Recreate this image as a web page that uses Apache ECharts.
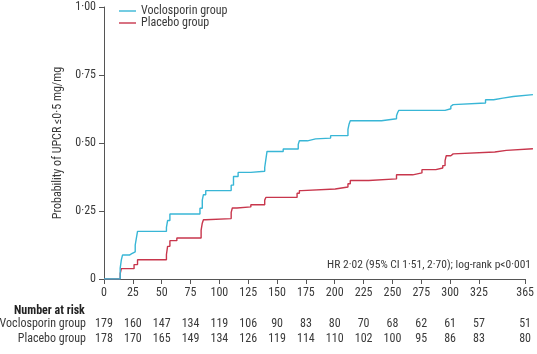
<!DOCTYPE html>
<html>
<head>
<meta charset="utf-8">
<script src="https://cdn.jsdelivr.net/npm/echarts@6/dist/echarts.min.js"></script>
<style>html,body{margin:0;padding:0;background:#fff}#c{width:537px;height:354px}</style>
</head>
<body>
<div id="c"></div>
<script>
const seriesNames = ['Voclosporin group', 'Placebo group'];
const voclosporin = [[0,0],[14,0.04],[15,0.07],[16,0.088],[22,0.093],[24,0.10],[27,0.125],[28,0.15],[29,0.175],
  [54,0.19],[55,0.215],[57,0.239],[83,0.26],[85,0.29],[86,0.31],[88,0.325],[110,0.345],[112,0.377],[116,0.392],
  [127,0.396],[139,0.41],[140,0.44],[141,0.469],[155,0.478],[168,0.495],[169,0.508],[176,0.515],[183,0.518],
  [196,0.527],[211,0.55],[212,0.57],[213,0.582],[240,0.589],[253,0.60],[254,0.612],[255,0.62],[295,0.626],
  [300,0.635],[301,0.641],[302,0.647],[330,0.659],[337,0.665],[345,0.671],[354,0.678],[371,0.678]];
const placebo = [[0,0],[14,0.02],[15,0.038],[26,0.053],[29,0.071],[54,0.09],[55,0.12],[57,0.141],[63,0.151],
  [84,0.18],[85,0.205],[86,0.218],[88,0.222],[110,0.245],[111,0.261],[115,0.265],[127,0.273],[139,0.29],[140,0.30],
  [167,0.315],[169,0.325],[171,0.331],[200,0.338],[211,0.35],[213,0.362],[229,0.368],[253,0.383],[267,0.39],
  [275,0.402],[287,0.408],[293,0.417],[295,0.435],[296,0.453],[300,0.46],[302,0.467],[338,0.473],[348,0.479],[371,0.479]];
const xTicks = [0,25,50,75,100,125,150,175,200,225,250,275,300,325,365];
const riskVoclosporin = [179,160,147,134,119,106,90,83,80,70,68,62,61,57,51];
const riskPlacebo = [178,170,165,149,134,126,119,114,110,102,100,95,86,83,80];
const hrText = 'HR 2·02 (95% CI 1·51, 2·70); log-rank p<0·001';
const yAxisTitle = 'Probability of UPCR ≤0·5 mg/mg';

const FONT = "'Liberation Sans Narrow', 'Arial Narrow', 'Roboto Condensed', sans-serif";
const TXT = '#3a3a3a';
const AX = '#555';
const colors = ['#38b6d6', '#c8364c'];

// layout: day 0 at x=104, day 365 at x=526 (same scale in both grids)
const LEFT = 104, RIGHT_AXIS = 11, PX_PER_DAY = (537 - LEFT - RIGHT_AXIS) / 365;
const DATA_MAX = 371;
const RIGHT_DATA = 537 - LEFT - DATA_MAX * PX_PER_DAY;

const chart = echarts.init(document.getElementById('c'), null, {renderer: 'canvas'});
const fmtY = v => v === 0 ? '0' : v.toFixed(2).replace('.', '·');
const riskAxis = (arr, offset) => ({
  type: 'value', min: 0, max: 365, position: 'bottom', offset: offset, gridIndex: 0,
  axisLine: {show: false}, axisTick: {show: false}, splitLine: {show: false},
  axisLabel: {customValues: xTicks, margin: 8, fontFamily: FONT, fontSize: 12, color: TXT,
    formatter: v => { const i = xTicks.indexOf(v); return i >= 0 ? String(arr[i]) : ''; }}
});
chart.setOption({
  animation: false,
  color: colors,
  grid: [
    {left: LEFT, right: RIGHT_AXIS, top: 7, bottom: 75, containLabel: false},
    {left: LEFT, right: RIGHT_DATA, top: 7, bottom: 75, containLabel: false}
  ],
  legend: {
    orient: 'vertical', left: 114, top: 0, itemWidth: 17, itemHeight: 14, itemGap: 0,
    icon: 'path://M0,0H17V1.4H0Z',
    data: seriesNames, textStyle: {fontFamily: FONT, fontSize: 12, color: TXT}
  },
  xAxis: [{
    type: 'value', min: 0, max: 365, gridIndex: 0,
    axisLine: {show: true, lineStyle: {color: AX, width: 1}},
    axisTick: {show: true, customValues: xTicks, length: 5, lineStyle: {color: AX}},
    axisLabel: {customValues: xTicks, margin: 8, fontFamily: FONT, fontSize: 12, color: TXT},
    splitLine: {show: false}
  }, riskAxis(riskVoclosporin, 31), riskAxis(riskPlacebo, 46), {
    type: 'value', min: 0, max: DATA_MAX, gridIndex: 1, show: false
  }],
  yAxis: [{
    type: 'value', min: 0, max: 1, interval: 0.25, gridIndex: 0,
    name: yAxisTitle, nameLocation: 'middle', nameGap: 36, nameRotate: 90,
    nameTextStyle: {fontFamily: FONT, fontSize: 12, color: TXT},
    axisLine: {show: true, lineStyle: {color: AX, width: 1}},
    axisTick: {show: true, length: 5, lineStyle: {color: AX}},
    axisLabel: {formatter: fmtY, margin: 8, fontFamily: FONT, fontSize: 12, color: TXT},
    splitLine: {show: false}
  }, {
    type: 'value', min: 0, max: 1, gridIndex: 1, show: false
  }],
  series: [
    {name: seriesNames[0], type: 'line', step: 'end', data: voclosporin, symbol: 'none',
     xAxisIndex: 3, yAxisIndex: 1, lineStyle: {width: 1.4, color: colors[0]}, z: 3},
    {name: seriesNames[1], type: 'line', step: 'end', data: placebo, symbol: 'none',
     xAxisIndex: 3, yAxisIndex: 1, lineStyle: {width: 1.4, color: colors[1]}, z: 2}
  ],
  graphic: [
    {type: 'text', x: 531, y: 265, style: {text: hrText, align: 'right', verticalAlign: 'middle', font: '11.5px ' + FONT, fill: TXT}},
    {type: 'text', x: 14, y: 311, style: {text: 'Number at risk', align: 'left', verticalAlign: 'middle', font: 'bold 12px ' + FONT, fill: '#222'}},
    {type: 'text', x: 86, y: 324, style: {text: seriesNames[0], align: 'right', verticalAlign: 'middle', font: '12px ' + FONT, fill: TXT}},
    {type: 'text', x: 86, y: 339, style: {text: seriesNames[1], align: 'right', verticalAlign: 'middle', font: '12px ' + FONT, fill: TXT}}
  ]
});
</script>
</body>
</html>
